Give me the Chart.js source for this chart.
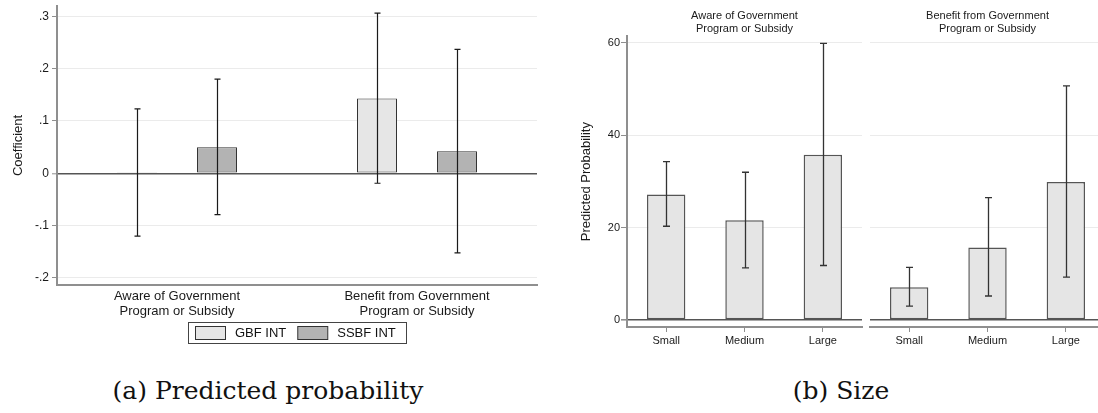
<!DOCTYPE html>
<html>
<head>
<meta charset="utf-8">
<script src="https://cdn.jsdelivr.net/npm/chart.js@4.4.1/dist/chart.umd.min.js"></script>
<style>
  html, body { margin: 0; padding: 0; background: #fff; overflow: hidden; width: 1098px; height: 413px; }
  canvas { position: absolute; top: 0; }
  .cap { position: absolute; top: 376px; font-family: 'DejaVu Serif', serif; font-size: 25px; line-height: 30px;
         text-align: center; color: #111; white-space: nowrap; }
</style>
</head>
<body>
<canvas id="coef" width="560" height="352" style="left:0"></canvas>
<canvas id="aware" width="306" height="352" style="left:560px"></canvas>
<canvas id="benefit" width="250" height="352" style="left:866px"></canvas>
<div class="cap" style="left:0;width:536px">(a) Predicted probability</div>
<div class="cap" style="left:641px;width:400px">(b) Size</div>
<script>
// Panel (a): interaction coefficients with 95% confidence intervals
const outcomes = [
  ['Aware of Government', 'Program or Subsidy'],
  ['Benefit from Government', 'Program or Subsidy']
];
const gbfCoef = [0.001, 0.143];
const gbfLow = [-0.120, -0.019];
const gbfHigh = [0.123, 0.306];
const ssbfCoef = [0.050, 0.042];
const ssbfLow = [-0.079, -0.152];
const ssbfHigh = [0.180, 0.237];
const coefTicks = [-0.2, -0.1, 0, 0.1, 0.2, 0.3];

// Panel (b): predicted probability by firm size
const sizes = ['Small', 'Medium', 'Large'];
const awareProb = [27.2, 21.6, 35.8];
const awareLow = [20.3, 11.3, 11.8];
const awareHigh = [34.3, 32.0, 59.9];
const benefitProb = [7.1, 15.7, 29.9];
const benefitLow = [3.0, 5.2, 9.3];
const benefitHigh = [11.4, 26.5, 50.7];
const probTicks = [0, 20, 40, 60];

const FONT = "'Liberation Sans', Arial, sans-serif";
Chart.defaults.font.family = FONT;
Chart.defaults.color = '#1a1a1a';
Chart.defaults.animation = false;

const AXIS = '#8f8f8f';
const GRID = '#ebebeb';
const ZERO = '#555555';

// Whiskers for the confidence interval of every bar
const errorBars = {
  id: 'errorBars',
  afterDatasetsDraw(chart, args, opts) {
    const { ctx } = chart;
    const y = chart.scales.y;
    chart.data.datasets.forEach((ds, i) => {
      const meta = chart.getDatasetMeta(i);
      meta.data.forEach((bar, j) => {
        const top = y.getPixelForValue(ds.ciHigh[j]);
        const bot = y.getPixelForValue(ds.ciLow[j]);
        const x = Math.round(bar.x) + 0.5;
        ctx.save();
        ctx.strokeStyle = opts.color;
        ctx.lineWidth = opts.width;
        ctx.beginPath();
        ctx.moveTo(x, top); ctx.lineTo(x, bot);
        ctx.moveTo(x - opts.cap, top); ctx.lineTo(x + opts.cap, top);
        ctx.moveTo(x - opts.cap, bot); ctx.lineTo(x + opts.cap, bot);
        ctx.stroke();
        ctx.restore();
      });
    });
  }
};

// Framed legend under the category labels, centred on the plot region
const boxedLegend = {
  id: 'boxedLegend',
  afterDraw(chart, args, o) {
    const { ctx, chartArea } = chart;
    ctx.save();
    ctx.font = o.fontSize + 'px ' + FONT;
    const items = chart.data.datasets.map(ds => ({
      text: ds.label, fill: ds.backgroundColor, stroke: ds.borderColor, w: ctx.measureText(ds.label).width
    }));
    let total = o.padL + o.padR + o.itemGap * (items.length - 1);
    items.forEach(it => { total += o.swatchW + o.textGap + it.w; });
    const left = Math.round((chartArea.left + chartArea.right) / 2 - total / 2);
    const top = Math.round(chart.scales.x.bottom + o.offset);
    ctx.strokeStyle = '#444';
    ctx.lineWidth = 1;
    ctx.strokeRect(left + 0.5, top + 0.5, Math.round(total), o.height);
    let x = left + o.padL;
    const sy = top + Math.round((o.height - o.swatchH) / 2);
    items.forEach(it => {
      ctx.fillStyle = it.fill;
      ctx.fillRect(x + 0.5, sy + 0.5, o.swatchW, o.swatchH);
      ctx.strokeStyle = it.stroke;
      ctx.strokeRect(x + 0.5, sy + 0.5, o.swatchW, o.swatchH);
      ctx.fillStyle = '#111';
      ctx.textBaseline = 'middle';
      ctx.textAlign = 'left';
      ctx.fillText(it.text, x + o.swatchW + o.textGap, top + o.height / 2 + 1);
      x += o.swatchW + o.textGap + it.w + o.itemGap;
    });
    ctx.restore();
  }
};

const zeroGrid = {
  color: c => (c.tick && c.tick.value === 0 ? ZERO : GRID),
  lineWidth: c => (c.tick && c.tick.value === 0 ? 1.6 : 1)
};

const fmtCoef = v => {
  if (Math.abs(v) < 1e-9) return '0';
  const s = String(Math.round(Math.abs(v) * 10) / 10).replace(/^0/, '');
  return (v < 0 ? '-' : '') + s;
};

new Chart(document.getElementById('coef'), {
  type: 'bar',
  data: {
    labels: outcomes,
    datasets: [
      { label: 'GBF INT', data: gbfCoef, ciLow: gbfLow, ciHigh: gbfHigh,
        backgroundColor: '#e6e6e6', borderColor: '#333', borderWidth: 1, borderSkipped: false,
        barPercentage: 0.5, categoryPercentage: 0.6667 },
      { label: 'SSBF INT', data: ssbfCoef, ciLow: ssbfLow, ciHigh: ssbfHigh,
        backgroundColor: '#b3b3b3', borderColor: '#333', borderWidth: 1, borderSkipped: false,
        barPercentage: 0.5, categoryPercentage: 0.6667 }
    ]
  },
  options: {
    responsive: false,
    devicePixelRatio: 1,
    layout: { padding: { top: 1, right: 23, left: 0, bottom: 34 } },
    plugins: {
      tooltip: { enabled: false },
      legend: { display: false },
      boxedLegend: { fontSize: 13, swatchW: 30, swatchH: 13, textGap: 10, itemGap: 11, padL: 7, padR: 10, offset: 4, height: 21 },
      errorBars: { color: '#1a1a1a', width: 1.2, cap: 3 }
    },
    scales: {
      x: {
        grid: { display: false },
        border: { display: true, color: AXIS, width: 2 },
        ticks: { font: { size: 13, lineHeight: 1.15 }, color: '#1a1a1a', padding: -4, maxRotation: 0, autoSkip: false },
        afterFit: s => { s.height = 33; }
      },
      y: {
        min: -0.2134, max: 0.3197,
        afterBuildTicks: s => { s.ticks = coefTicks.map(v => ({ value: v })); },
        ticks: { callback: v => fmtCoef(v), font: { size: 12, lineHeight: 0.5 }, color: '#1a1a1a', padding: 3 },
        grid: { ...zeroGrid, tickLength: 5, tickColor: AXIS, tickWidth: 1 },
        border: { color: AXIS, width: 2 },
        title: { display: true, text: 'Coefficient', font: { size: 13 }, color: '#1a1a1a', padding: { top: 11, bottom: 0 } },
        afterFit: s => { s.width = 57; }
      }
    }
  },
  plugins: [errorBars, boxedLegend]
});

function sizePanel(id, title, prob, low, high, first) {
  return new Chart(document.getElementById(id), {
    type: 'bar',
    data: {
      labels: sizes,
      datasets: [{ label: title.join(' '), data: prob, ciLow: low, ciHigh: high,
        backgroundColor: '#e5e5e5', borderColor: '#555', borderWidth: 1.5, borderSkipped: false,
        barPercentage: 0.49, categoryPercentage: 1 }]
    },
    options: {
      responsive: false,
      devicePixelRatio: 1,
      layout: { padding: first ? { left: 0, right: 4, top: 0, bottom: 0 } : { left: 4, right: 11, top: 0, bottom: 0 } },
      plugins: {
        tooltip: { enabled: false },
        legend: { display: false },
        title: { display: true, text: title, fullSize: false, color: '#1a1a1a',
                 font: { size: 11, weight: 'normal', lineHeight: 1.15 }, padding: { top: 10, bottom: 1 } },
        errorBars: { color: '#333', width: 1.3, cap: 3.5 }
      },
      scales: {
        x: {
          grid: { drawOnChartArea: false, offset: false, tickLength: 5, tickColor: AXIS },
          border: { color: AXIS, width: 2 },
          ticks: { font: { size: 11 }, color: '#1a1a1a', padding: 2 },
          afterFit: s => { s.height = 25; }
        },
        y: {
          min: -1.52, max: 61.45,
          afterBuildTicks: s => { s.ticks = probTicks.map(v => ({ value: v })); },
          ticks: { display: first, font: { size: 11 }, color: '#1a1a1a', padding: 1 },
          grid: { ...zeroGrid, drawTicks: first, tickLength: 6, tickColor: AXIS },
          border: { display: first, color: AXIS, width: 2 },
          title: { display: first, text: 'Predicted Probability', font: { size: 13 }, color: '#1a1a1a',
                   padding: { top: 19, bottom: 0 } },
          afterFit: s => { s.width = first ? 67 : 0; }
        }
      }
    },
    plugins: [errorBars]
  });
}

sizePanel('aware', ['Aware of Government', 'Program or Subsidy'], awareProb, awareLow, awareHigh, true);
sizePanel('benefit', ['Benefit from Government', 'Program or Subsidy'], benefitProb, benefitLow, benefitHigh, false);
</script>
</body>
</html>
